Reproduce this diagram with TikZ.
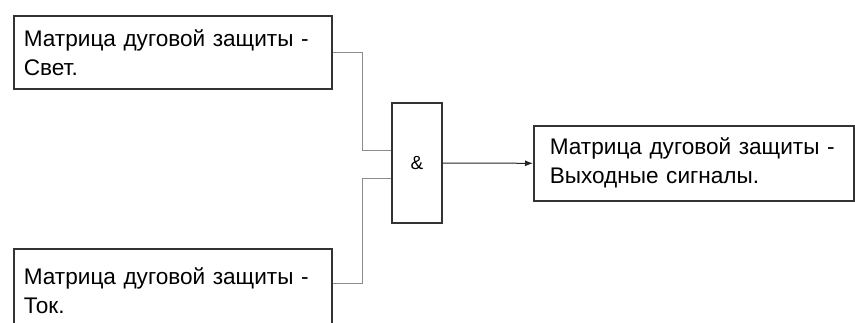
\documentclass[tikz,border=0pt]{standalone}
\usepackage{fontspec}
\setmainfont{Liberation Sans}
\usetikzlibrary{positioning,arrows.meta}

\begin{document}
\begin{tikzpicture}[x=1pt,y=-1pt,
  box/.style={draw=black!80,line width=1.6pt,anchor=north west,align=left,
              text width=298pt,inner xsep=10pt,inner ysep=12pt,
              font=\fontsize{22.6}{29}\selectfont},
  wire/.style={draw=black!45,line width=1pt},
  gatebox/.style={draw=black!80,line width=1.6pt,minimum width=50pt,
              minimum height=120pt,font=\fontsize{19}{19}\selectfont}]
\useasboundingbox (0,0) rectangle (855,322);
\node[box,minimum height=73pt] (light) at (13,15)
  {Матрица дуговой защиты -\\Свет.};
\node[box,minimum height=84pt] (curr) at (13,248)
  {Матрица дуговой защиты -\\Ток.};
\node[gatebox] (and) at (417,163) {\&};
\node[box,text width=288pt,inner xsep=16pt,minimum height=75pt] (out) at (533,125)
  {Матрица дуговой защиты -\\Выходные сигналы.};
\coordinate (in1) at ([yshift=13]and.west);
\coordinate (in2) at ([yshift=-15]and.west);
\coordinate (cl) at ([yshift=-35]curr.north east);
\draw[wire] (light.east) -- ++(30,0) |- (in1);
\draw[wire] (cl) -- ++(30,0) |- (in2);
\draw[draw=black!85,line width=1pt,-{Latex[length=8pt,width=6pt]}] (and.east) -- (out.west);
\end{tikzpicture}
\end{document}
